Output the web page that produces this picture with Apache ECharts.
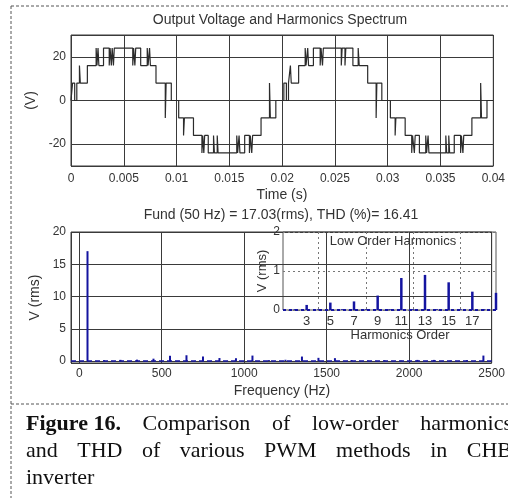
<!DOCTYPE html>
<html><head><meta charset="utf-8">
<script src="https://cdn.jsdelivr.net/npm/echarts@6/dist/echarts.min.js"></script>
<style>html,body{margin:0;padding:0;background:#fff}#c{width:508px;height:498px}</style>
</head><body><div id="c"></div>
<script>
// ---- Waveform: switching instants (ms) and the level (V) held after each ----
const switchTimesMs = [
  0, 0.15, 0.35, 0.55, 0.80, 0.88, 1.55, 2.38, 2.46, 2.56, 2.64, 3.08, 3.62, 3.70, 3.82, 3.90, 4.02, 4.10,
  5.85, 5.93, 6.05, 6.13, 6.60, 7.22, 7.30, 7.44, 7.52, 8.05, 8.93, 9.01, 9.50,
  10.20, 10.66, 10.74, 11.60, 12.40, 12.48, 12.58, 12.66, 13.00, 13.50, 13.58, 13.85, 13.93,
  15.70, 15.78, 15.92, 16.00, 16.45, 16.90, 16.98, 17.12, 17.20, 18.00, 18.80, 18.88, 19.40,
  20.16, 20.40, 20.60, 20.78, 20.86, 21.56, 22.18, 22.26, 22.42, 22.50, 22.96, 23.60, 23.68, 23.82, 23.90,
  25.60, 25.68, 25.95, 26.03, 26.70, 27.20, 27.30, 28.10, 28.90, 28.97, 29.44,
  30.25, 30.70, 30.77, 31.65, 32.27, 32.35, 32.52, 32.60, 33.00, 33.60, 33.68, 33.82, 33.90,
  35.50, 35.58, 35.78, 35.86, 36.30, 36.90, 36.98, 37.12, 37.20, 37.97, 38.80, 38.88, 39.40, 40.00
];
const switchLevels = [
  0, 8, 0, 8, 16, 8, 16, 24, 16, 24, 16, 24, 16, 24, 16, 24, 16, 24,
  16, 24, 16, 24, 16, 24, 16, 24, 16, 8, -8, 8, 0,
  -8, -16, -8, -16, -24, -16, -24, -16, -24, -16, -24, -16, -24,
  -16, -24, -16, -24, -16, -24, -16, -24, -16, -8, 8, -8, 0,
  8, 0, 8, 16, 8, 16, 24, 16, 24, 16, 24, 16, 24, 16, 24,
  16, 24, 16, 24, 16, 24, 16, 8, -8, 8, 0,
  -8, -16, -8, -16, -24, -16, -24, -16, -24, -16, -24, -16, -24,
  -16, -24, -16, -24, -16, -24, -16, -24, -16, -8, 8, -8, 0, 0
];

// ---- Spectrum: harmonic order k (frequency k*50 Hz) and RMS amplitude ----
const fundHz = 50;
const harmonicOrders = [1,2,3,4,5,6,7,8,9,10,11,12,13,14,15,16,17,18,19,20,21,22,23,24,25,
  26,27,28,29,30,31,32,33,34,35,36,37,38,39,40,41,42,43,44,45,46,47,48,49,50];
const harmonicAmps = [17.03,0.02,0.13,0.02,0.19,0.02,0.22,0.02,0.37,0.02,0.82,0.02,0.90,0.02,0.71,0.02,0.47,0.02,0.44,0.02,
  0.85,0.02,0.15,0.02,0.20,0.02,0.70,0.02,0.50,0.02,0.45,0.02,0.15,0.02,0.06,0.02,0.12,0.02,0.06,0.02,
  0.18,0.02,0.18,0.02,0.06,0.02,0.14,0.02,0.85,0.02];
const thdPercent = '16.41';
const insetOrders = ['1','2','3','4','5','6','7','8','9','10','11','12','13','14','15','16','17','18','19'];

// ---- Text ----
const titleTop = 'Output Voltage and Harmonics Spectrum';
const titleMid = 'Fund (' + fundHz + ' Hz) = ' + harmonicAmps[0].toFixed(2) + '(rms), THD (%)= ' + thdPercent;
const captionLines = [
  ['Figure 16.', 'Comparison', 'of', 'low-order', 'harmonics'],
  ['and', 'THD', 'of', 'various', 'PWM', 'methods', 'in', 'CHB'],
  ['inverter']
];

const waveData = switchTimesMs.map((t, i) => [t, switchLevels[i]]);
const spectrumData = harmonicOrders.map((k, i) => [k * fundHz, harmonicAmps[i]]);
const insetData = insetOrders.map(o => { const k = +o; return k === 1 ? '-' : harmonicAmps[k - 1]; });

const SANS = '"Liberation Sans", Arial, sans-serif';
const SERIF = '"Liberation Serif", "Times New Roman", serif';
const TXT = '#333';
const GRID = '#3a3a3a';
const BLUE = '#1414a0';

// caption layout (justified lines 1-2, clipped at right like the source)
const cvs = document.createElement('canvas').getContext('2d');
const capGraphics = [];
const capLeft = 26, capRight = 512, capSize = 22;
const capY = [424, 451.5, 478];
captionLines.forEach((words, li) => {
  const fonts = words.map((w, wi) => (li === 0 && wi === 0 ? 'bold ' : '') + capSize + 'px ' + SERIF);
  const widths = words.map((w, wi) => { cvs.font = fonts[wi]; return cvs.measureText(w).width; });
  const total = widths.reduce((a, b) => a + b, 0);
  const justify = li < captionLines.length - 1 && words.length > 1;
  const gap = justify ? (capRight - capLeft - total) / (words.length - 1) : capSize * 0.25;
  let x = capLeft;
  words.forEach((w, wi) => {
    capGraphics.push({ type: 'text', x: x, y: capY[li], style: { text: w, font: fonts[wi], fill: '#111', textVerticalAlign: 'middle' } });
    x += widths[wi] + gap;
  });
});

function label(text, x, y, size, extra) {
  return Object.assign({ type: 'text', x: x, y: y, style: { text: text, font: size + 'px ' + SANS, fill: TXT, textAlign: 'center', textVerticalAlign: 'middle' } }, extra || {});
}

const chart = echarts.init(document.getElementById('c'), null, { renderer: 'canvas' });
const axisLabelStyle = { color: TXT, fontSize: 12, fontFamily: SANS };
chart.setOption({
  animation: false,
  backgroundColor: '#fff',
  grid: [
    { left: 71, top: 35, width: 428, height: 131, show: true, borderColor: GRID, borderWidth: 1 },
    { left: 71, top: 232, width: 426, height: 131, show: true, borderColor: GRID, borderWidth: 1 },
    { left: 283, top: 232, width: 213, height: 78, show: true, borderColor: '#555', borderWidth: 1, backgroundColor: 'transparent' }
  ],
  xAxis: [
    { type: 'value', gridIndex: 0, min: 0, max: 40, interval: 5,
      axisLine: { show: false }, axisTick: { show: false },
      axisLabel: Object.assign({ margin: 7, formatter: v => String(+(v / 1000).toFixed(3)) }, axisLabelStyle),
      splitLine: { show: true, lineStyle: { color: GRID, width: 1 } } },
    { type: 'value', gridIndex: 1, min: -50, max: 2500, splitNumber: 5,
      axisLine: { show: false }, axisTick: { show: false },
      axisLabel: Object.assign({ margin: 5, showMinLabel: false, formatter: v => String(Math.round(v)) }, axisLabelStyle),
      splitLine: { show: true, lineStyle: { color: GRID, width: 1 } } },
    { type: 'category', gridIndex: 2, data: insetOrders, boundaryGap: false,
      axisLine: { show: false }, axisTick: { show: false },
      axisLabel: { margin: 5, color: TXT, fontSize: 13, fontFamily: SANS,
        interval: (i, v) => { const k = +v; return k % 2 === 1 && k >= 3 && k <= 17; } },
      splitLine: { show: true, interval: (i, v) => (+v) % 4 === 0, lineStyle: { color: '#777', type: [2, 3], width: 1 } } }
  ],
  yAxis: [
    { type: 'value', gridIndex: 0, min: -30, max: 30, splitNumber: 3,
      axisLine: { show: false }, axisTick: { show: false },
      axisLabel: Object.assign({ margin: 5, showMinLabel: false, showMaxLabel: false }, axisLabelStyle),
      splitLine: { show: true, lineStyle: { color: GRID, width: 1 } },
      name: '(V)', nameLocation: 'middle', nameGap: 30, nameTextStyle: { color: TXT, fontSize: 14, fontFamily: SANS } },
    { type: 'value', gridIndex: 1, min: -0.3, max: 20, splitNumber: 4,
      axisLine: { show: false }, axisTick: { show: false },
      axisLabel: Object.assign({ margin: 5, showMinLabel: false }, axisLabelStyle),
      splitLine: { show: true, lineStyle: { color: GRID, width: 1 } },
      name: 'V (rms)', nameLocation: 'middle', nameGap: 28, nameTextStyle: { color: TXT, fontSize: 14, fontFamily: SANS } },
    { type: 'value', gridIndex: 2, min: 0, max: 2, interval: 1,
      axisLine: { show: false }, axisTick: { show: false },
      axisLabel: { margin: 3, color: TXT, fontSize: 12, fontFamily: SANS },
      splitLine: { show: true, lineStyle: { color: '#777', type: [2, 3], width: 1 } },
      name: 'V (rms)', nameLocation: 'middle', nameGap: 14, nameTextStyle: { color: TXT, fontSize: 13, fontFamily: SANS } }
  ],
  series: [
    { type: 'line', xAxisIndex: 0, yAxisIndex: 0, data: waveData, step: 'end', showSymbol: false, symbol: 'none',
      lineStyle: { color: '#2b2b2b', width: 1.2 }, z: 5 },
    { type: 'bar', xAxisIndex: 1, yAxisIndex: 1, data: spectrumData, barWidth: 2, itemStyle: { color: BLUE }, z: 5,
      markLine: { silent: true, symbol: 'none', label: { show: false }, data: [{ yAxis: 0 }],
        lineStyle: { color: BLUE, type: [5, 3], width: 1.6 } } },
    { type: 'bar', xAxisIndex: 2, yAxisIndex: 2, data: insetData, barWidth: 2.5, itemStyle: { color: BLUE }, z: 6,
      markLine: { silent: true, symbol: 'none', label: { show: false }, data: [{ yAxis: 0 }],
        lineStyle: { color: BLUE, type: [3, 3], width: 2 } } }
  ],
  graphic: [
    { type: 'line', shape: { x1: 11, y1: 6, x2: 508, y2: 6 }, style: { stroke: '#555', lineWidth: 1, lineDash: [3, 2] } },
    { type: 'line', shape: { x1: 11, y1: 6, x2: 11, y2: 498 }, style: { stroke: '#555', lineWidth: 1, lineDash: [3, 2] } },
    { type: 'line', shape: { x1: 11, y1: 404, x2: 508, y2: 404 }, style: { stroke: '#555', lineWidth: 1, lineDash: [3, 2] } },
    label(titleTop, 280, 20, 14),
    label('Time (s)', 282, 195, 14),
    label(titleMid, 281, 215.5, 14),
    label('Frequency (Hz)', 282, 391.5, 14),
    label('Low Order Harmonics', 393, 241, 13, { z: 10 }),
    label('Harmonics Order', 400, 335, 13)
  ].concat(capGraphics)
});
</script></body></html>
